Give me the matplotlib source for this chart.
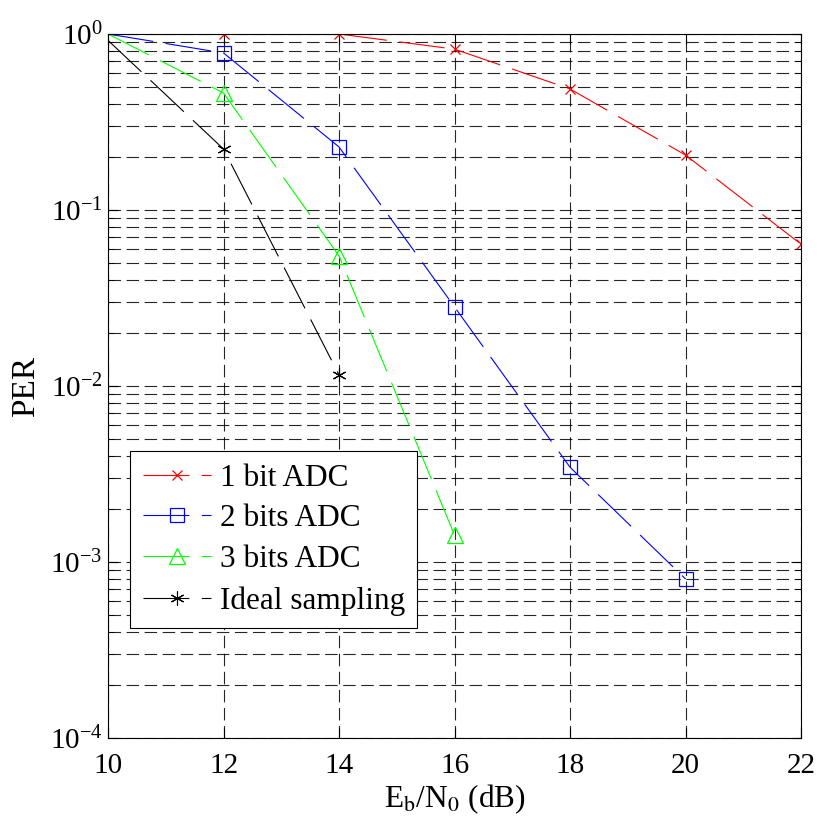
import matplotlib
matplotlib.use("Agg")
import matplotlib.pyplot as plt
from matplotlib.ticker import LogLocator, NullFormatter

plt.rcParams["font.family"] = ["Liberation Serif", "DejaVu Serif"]
plt.rcParams["mathtext.fontset"] = "stix"
plt.rcParams["lines.scale_dashes"] = False

ebn0 = [10, 12, 14, 16, 18, 20, 22]

per_1bit = [1.0, 1.0, 1.0, 0.82, 0.487, 0.205, 0.0638]
ebn0_2bit = [10, 12, 14, 16, 18, 20]
per_2bit = [1.0, 0.78, 0.228, 0.0281, 0.00345, 0.0008]
ebn0_3bit = [10, 12, 14, 16]
per_3bit = [1.0, 0.462, 0.0548, 0.00142]
ebn0_ideal = [10, 12, 14]
per_ideal = [0.92, 0.222, 0.01155]

labels = ["1 bit ADC", "2 bits ADC", "3 bits ADC", "Ideal sampling"]

fig = plt.figure(figsize=(8.2, 8.25), dpi=100)
ax = fig.add_axes([0.1317, 0.1055, 0.8453, 0.8533])

# markers at the left edge are not shown in the original
skip = slice(1, None)
dash = (0, (33, 9))
ax.plot(ebn0, per_1bit, color="red", ls=dash, lw=0.8, marker="x", ms=7,
        mew=0.9, markevery=skip, label=labels[0])
ax.plot(ebn0_2bit, per_2bit, color="blue", ls=dash, lw=0.8, marker="s", ms=10,
        mfc="none", mew=0.9, markevery=skip, label=labels[1])
ax.plot(ebn0_3bit, per_3bit, color="#00ff00", ls=dash, lw=0.8, marker="^", ms=12,
        mfc="none", mew=0.9, markevery=skip, label=labels[2])
ax.plot(ebn0_ideal, per_ideal, color="black", ls=dash, lw=0.8, marker=(6, 2, 0), ms=10,
        mew=0.8, markevery=skip, label=labels[3])

ax.set_yscale("log")
ax.set_xlim(10, 22)
ax.set_ylim(1e-4, 1)
ax.set_xticks(ebn0)
ax.yaxis.set_major_locator(LogLocator(base=10, numticks=10))
ax.yaxis.set_minor_locator(LogLocator(base=10, subs=range(2, 10), numticks=20))
ax.yaxis.set_minor_formatter(NullFormatter())

grid_dash = (0, (9, 4))
ax.grid(True, which="major", axis="both", color="black", ls=grid_dash, lw=0.8, alpha=0.85)
ax.grid(True, which="minor", axis="y", color="black", ls=grid_dash, lw=0.8, alpha=0.85)

ax.tick_params(which="both", direction="in", top=True, right=True, labelsize=21)
ax.tick_params(which="major", length=7)
ax.tick_params(which="minor", length=4)
ax.tick_params(axis="x", pad=11)
ax.tick_params(axis="y", pad=4)
for s in ax.spines.values():
    s.set_linewidth(0.8)

ax.set_xlabel("E$_\\mathrm{b}$/N$_\\mathrm{0}$ (dB)", fontsize=22.5, labelpad=2)
ax.set_ylabel("PER", fontsize=24, va="center")
ax.yaxis.set_label_coords(-0.118, 0.5)

leg = ax.legend(loc="lower left", bbox_to_anchor=(0.032, 0.156), borderaxespad=0,
                fontsize=22.5, handlelength=2.2, handletextpad=0.26, borderpad=0.4,
                labelspacing=0.38, frameon=True, fancybox=False, framealpha=1,
                edgecolor="black")
leg.get_frame().set_linewidth(0.8)

fig.savefig("out.png", dpi=100)
